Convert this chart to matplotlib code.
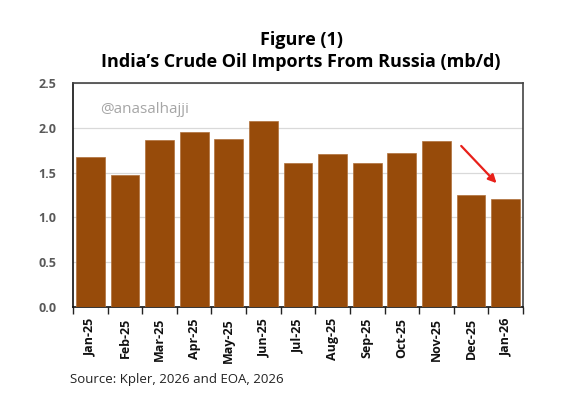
import matplotlib
matplotlib.use("Agg")
import matplotlib.pyplot as plt

months = ["Jan-25", "Feb-25", "Mar-25", "Apr-25", "May-25", "Jun-25", "Jul-25",
          "Aug-25", "Sep-25", "Oct-25", "Nov-25", "Dec-25", "Jan-26"]
imports = [1.67, 1.47, 1.86, 1.95, 1.87, 2.08, 1.61, 1.71, 1.61, 1.72, 1.85, 1.25, 1.20]
yticks = [0.0, 0.5, 1.0, 1.5, 2.0, 2.5]

plt.rcParams['font.family'] = ['Open Sans', 'DejaVu Sans']

fig = plt.figure(figsize=(5.88, 3.95), dpi=100)
ax = fig.add_axes([73/588, 1-307/395, 450/588, 224/395])

x = list(range(len(months)))
ax.bar(x, imports, width=0.83, color="#974B0A", edgecolor="#B0703A", linewidth=0.5, zorder=3)
ax.set_xlim(-0.5, len(months) - 0.5)
ax.set_ylim(0, 2.5)
ax.set_yticks(yticks)
ax.set_yticklabels([f"{v:.1f}" for v in yticks], fontsize=9, fontweight='bold', color="#595959")
ax.tick_params(axis='y', length=0, pad=12)
ax.grid(axis='y', color="#D9D9D9", linewidth=0.9, zorder=0)

ax.set_xticks([i + 0.5 for i in range(-1, len(months))], minor=False)
ax.set_xticklabels([])
ax.tick_params(axis='x', which='major', length=5, width=1, color="#222222", direction='out')
ax.set_xticks(x, minor=True)
ax.set_xticklabels(months, minor=True, rotation=90, fontsize=9, fontweight='bold', color="#111111")
ax.tick_params(axis='x', which='minor', length=0, pad=8)

for side in ['top', 'right']:
    ax.spines[side].set_color("#444444")
    ax.spines[side].set_linewidth(1.2)
ax.spines['left'].set_color("#111111")
ax.spines['left'].set_linewidth(1.2)
ax.spines['bottom'].set_color("#111111")
ax.spines['bottom'].set_linewidth(1.2)

ax.text(0.06, 0.88, "@anasalhajji", transform=ax.transAxes, fontsize=11,
        color="#A6A6A6", ha='left', va='center', zorder=5)

ax.annotate("", xy=(11.79, 1.36), xytext=(10.66, 1.82),
            arrowprops=dict(arrowstyle="-|>", color="#E8201A", lw=1.6,
                            mutation_scale=12), zorder=6)

fig.text(0.512, 1-40/395, "Figure (1)", ha='center', va='center', fontsize=13, fontweight='bold')
fig.text(0.512, 1-62/395, "India\u2019s Crude Oil Imports From Russia (mb/d)", ha='center',
         va='center', fontsize=13, fontweight='bold')
fig.text(70/588, 1-380/395, "Source: Kpler, 2026 and EOA, 2026", ha='left', va='center',
         fontsize=9.5, color="#222222")

fig.savefig("out.png", dpi=100)
